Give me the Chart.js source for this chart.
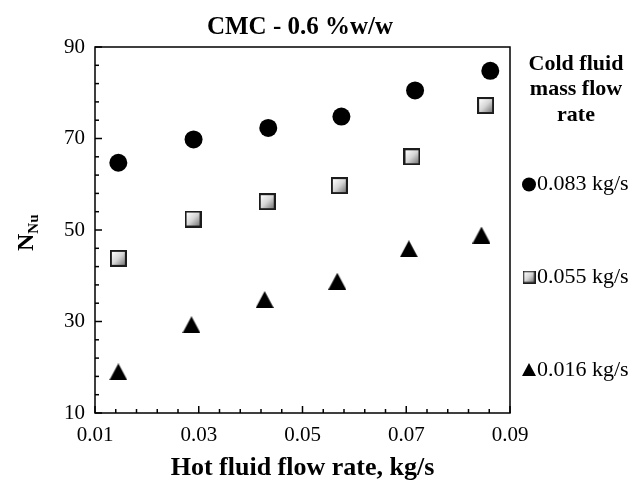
<!DOCTYPE html>
<html>
<head>
<meta charset="utf-8">
<script src="https://cdn.jsdelivr.net/npm/chart.js@4.4.1/dist/chart.umd.min.js"></script>
<style>
  html, body { margin: 0; padding: 0; background: #fff; }
  #wrap { width: 642px; height: 484px; }
</style>
</head>
<body>
<div id="wrap"><canvas id="chart" width="642" height="484"></canvas></div>
<script>
// values
const seriesLabels = ["0.083 kg/s", "0.055 kg/s", "0.016 kg/s"];

const hotFlow083 = [0.0145, 0.0290, 0.0434, 0.0575, 0.0717, 0.0862];
const nu083 = [64.7, 69.8, 72.3, 74.8, 80.5, 84.8];

const hotFlow055 = [0.0145, 0.0289, 0.0432, 0.0571, 0.0711, 0.0853];
const nu055 = [43.8, 52.4, 56.2, 59.7, 66.0, 77.2];

const hotFlow016 = [0.0145, 0.0286, 0.0427, 0.0567, 0.0705, 0.0845];
const nu016 = [19.0, 29.3, 34.8, 38.8, 45.9, 48.9];

const xTicks = [0.01, 0.03, 0.05, 0.07, 0.09];
const xTickLabels = ["0.01", "0.03", "0.05", "0.07", "0.09"];
const yTicks = [10, 30, 50, 70, 90];
const yTickLabels = ["10", "30", "50", "70", "90"];

const FONT = "'Liberation Serif', 'Times New Roman', serif";

// marker images
function makeSquare(size, edge) {
    const c = document.createElement("canvas");
    c.width = size; c.height = size;
    const g = c.getContext("2d");
    g.fillStyle = "#1c1c1c";
    g.fillRect(0, 0, size, size);
    const grad = g.createLinearGradient(edge, edge, size - edge, size - edge);
    grad.addColorStop(0, "#ffffff");
    grad.addColorStop(0.5, "#d6d6d6");
    grad.addColorStop(1, "#7a7a7a");
    g.fillStyle = grad;
    g.fillRect(edge, edge, size - 2 * edge, size - 2 * edge);
    return c;
}

function makeTriangle(w, h) {
    const c = document.createElement("canvas");
    c.width = w; c.height = h;
    const g = c.getContext("2d");
    g.fillStyle = "#000";
    g.beginPath();
    g.moveTo(w / 2, 0);
    g.lineTo(w, h);
    g.lineTo(0, h);
    g.closePath();
    g.fill();
    return c;
}

const squareImg = makeSquare(17, 2);
const triangleImg = makeTriangle(18, 17);
const squareSmall = makeSquare(13, 1.5);
const triangleSmall = makeTriangle(14, 13);

function toPoints(xs, ys) {
    return xs.map((x, i) => ({ x: x, y: ys[i] }));
}

// box, inward ticks, titles and legend
const decorPlugin = {
    id: "decor",
    afterDraw(chart) {
        const ctx = chart.ctx;
        const a = chart.chartArea;
        const sx = chart.scales.x;
        const sy = chart.scales.y;

        ctx.save();
        ctx.strokeStyle = "#000";
        ctx.lineWidth = 1.5;
        ctx.strokeRect(a.left, a.top, a.right - a.left, a.bottom - a.top);

        // minor / major ticks pointing inward
        for (let i = 0; i <= 20; i++) {
            const px = sx.getPixelForValue(0.01 + i * 0.004);
            const len = i % 5 === 0 ? 7 : 4;
            ctx.beginPath();
            ctx.moveTo(px, a.bottom);
            ctx.lineTo(px, a.bottom - len);
            ctx.stroke();
        }
        for (let i = 0; i <= 20; i++) {
            const py = sy.getPixelForValue(10 + i * 4);
            const len = i % 5 === 0 ? 7 : 4;
            ctx.beginPath();
            ctx.moveTo(a.left, py);
            ctx.lineTo(a.left + len, py);
            ctx.stroke();
        }

        ctx.fillStyle = "#000";

        // main title
        ctx.font = "bold 25px " + FONT;
        ctx.textAlign = "center";
        ctx.textBaseline = "middle";
        ctx.fillText("CMC - 0.6 %w/w", 300, 28);

        // y title N with subscript Nu
        ctx.save();
        ctx.translate(33, 251);
        ctx.rotate(-Math.PI / 2);
        ctx.textAlign = "left";
        ctx.textBaseline = "alphabetic";
        ctx.font = "bold 24px " + FONT;
        ctx.fillText("N", 0, 0);
        const nw = ctx.measureText("N").width;
        ctx.font = "bold 15px " + FONT;
        ctx.fillText("Nu", nw, 5);
        ctx.restore();

        // legend
        ctx.font = "bold 22px " + FONT;
        ctx.textAlign = "center";
        ctx.fillText("Cold fluid", 576, 64);
        ctx.fillText("mass flow", 576, 89.5);
        ctx.fillText("rate", 576, 115);

        ctx.font = "22px " + FONT;
        ctx.textAlign = "left";
        const rows = [184.5, 277, 370];
        rows.forEach((y, i) => ctx.fillText(seriesLabels[i], 537, y));

        ctx.beginPath();
        ctx.arc(529, rows[0], 7, 0, Math.PI * 2);
        ctx.fill();
        ctx.drawImage(squareSmall, 529 - 6.5, rows[1] - 6.5);
        ctx.drawImage(triangleSmall, 529 - 7, rows[2] - 7);

        ctx.restore();
    }
};

new Chart(document.getElementById("chart"), {
    type: "scatter",
    data: {
        datasets: [
            {
                label: seriesLabels[0],
                data: toPoints(hotFlow083, nu083),
                pointStyle: "circle",
                pointRadius: 9,
                backgroundColor: "#000",
                borderColor: "#000",
                borderWidth: 0
            },
            {
                label: seriesLabels[1],
                data: toPoints(hotFlow055, nu055),
                pointStyle: squareImg
            },
            {
                label: seriesLabels[2],
                data: toPoints(hotFlow016, nu016),
                pointStyle: triangleImg
            }
        ]
    },
    options: {
        responsive: false,
        animation: false,
        events: [],
        layout: {
            padding: { left: 0, right: 132, top: 47, bottom: 0 }
        },
        plugins: {
            legend: { display: false },
            tooltip: { enabled: false },
            title: { display: false }
        },
        scales: {
            x: {
                type: "linear",
                min: 0.01,
                max: 0.09,
                afterBuildTicks: s => { s.ticks = xTicks.map(v => ({ value: v })); },
                afterFit: s => { s.height = 71; },
                grid: { display: false, drawTicks: false },
                border: { display: false },
                ticks: {
                    color: "#000",
                    padding: 10,
                    maxRotation: 0,
                    font: { family: FONT, size: 21 },
                    callback: (v, i) => xTickLabels[i]
                },
                title: {
                    display: true,
                    text: "Hot fluid flow rate, kg/s",
                    color: "#000",
                    padding: { top: 0, bottom: 0 },
                    font: { family: FONT, size: 26, weight: "bold" }
                }
            },
            y: {
                type: "linear",
                min: 10,
                max: 90,
                afterBuildTicks: s => { s.ticks = yTicks.map(v => ({ value: v })); },
                afterFit: s => { s.width = 95; },
                grid: { display: false, drawTicks: false },
                border: { display: false },
                ticks: {
                    color: "#000",
                    padding: 10,
                    font: { family: FONT, size: 21 },
                    callback: (v, i) => yTickLabels[i]
                }
            }
        }
    },
    plugins: [decorPlugin]
});
</script>
</body>
</html>
